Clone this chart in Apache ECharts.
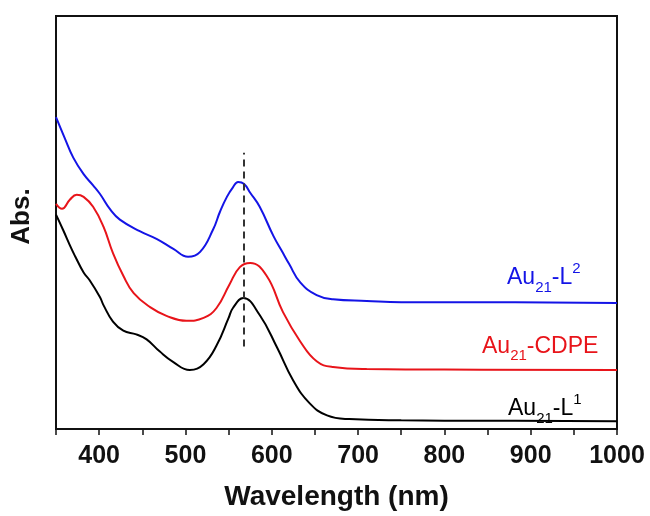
<!DOCTYPE html>
<html>
<head>
<meta charset="utf-8">
<script src="https://cdn.jsdelivr.net/npm/echarts@6/dist/echarts.min.js"></script>
<style>
  html, body { margin: 0; padding: 0; background: #fff; }
  #chart { width: 650px; height: 516px; }
</style>
</head>
<body>
<div id="chart"></div>
<script>
// UV-vis absorption spectra of the Au21 clusters (offset for clarity)
const wavelengthTicks = [400, 500, 600, 700, 800, 900, 1000];

// Au21-L2 (blue, top)
const auL2 = [
  [350, 0.755], [360, 0.705], [370, 0.657], [382, 0.617], [393, 0.590],
  [401, 0.569], [413, 0.531], [424, 0.507], [447, 0.479], [467, 0.460],
  [486, 0.436], [503, 0.417], [517, 0.429], [532, 0.483], [540, 0.526],
  [548, 0.562], [555, 0.585], [561, 0.598], [568, 0.593], [575, 0.572],
  [586, 0.538], [602, 0.467], [613, 0.426], [620, 0.400], [633, 0.355],
  [652, 0.324], [671, 0.314], [710, 0.310], [750, 0.307], [850, 0.307],
  [1000, 0.305]
];

// Au21-CDPE (red, middle)
const auCDPE = [
  [350, 0.545], [357, 0.533], [366, 0.555], [374, 0.567], [382, 0.562],
  [393, 0.538], [405, 0.490], [416, 0.426], [428, 0.371], [440, 0.329],
  [459, 0.295], [478, 0.274], [501, 0.262], [521, 0.269], [536, 0.293],
  [551, 0.350], [563, 0.392], [575, 0.402], [594, 0.371], [613, 0.283],
  [633, 0.212], [652, 0.164], [671, 0.150], [710, 0.145], [800, 0.144],
  [1000, 0.143]
];

// Au21-L1 (black, bottom)
const auL1 = [
  [350, 0.519], [358, 0.483], [368, 0.436], [372, 0.419], [382, 0.379],
  [389, 0.360], [401, 0.319], [405, 0.300], [416, 0.260], [428, 0.238],
  [443, 0.229], [455, 0.217], [470, 0.188], [486, 0.162], [505, 0.143],
  [521, 0.157], [536, 0.202], [550, 0.269], [555, 0.293], [567, 0.317],
  [586, 0.276], [606, 0.198], [625, 0.117], [644, 0.062], [664, 0.033],
  [690, 0.024], [750, 0.021], [850, 0.020], [1000, 0.019]
];

// reference line through the absorption maximum
const peakLine = { x: 567, yFrom: 0.200, yTo: 0.669 };

const FONT = '"Liberation Sans", Arial, sans-serif';

function specLabel(parts, left, top, color) {
  return {
    type: 'text',
    left: left,
    top: top,
    style: {
      text: parts,
      fill: color,
      font: '23px ' + FONT,
      rich: {
        m: { fontSize: 23, fontFamily: FONT, fill: color, lineHeight: 34 },
        sub: { fontSize: 15, fontFamily: FONT, fill: color, lineHeight: 15, verticalAlign: 'bottom' },
        sup: { fontSize: 15, fontFamily: FONT, fill: color, lineHeight: 15, verticalAlign: 'top' }
      }
    }
  };
}

const chart = echarts.init(document.getElementById('chart'), null, { renderer: 'canvas' });

const seriesLine = (name, data, color) => ({
  name: name,
  type: 'line',
  data: data,
  smooth: 0.45,
  showSymbol: false,
  symbol: 'none',
  lineStyle: { color: color, width: 2 },
  animation: false,
  z: 3
});

chart.setOption({
  animation: false,
  backgroundColor: '#fff',
  grid: {
    left: 56, right: 33, top: 16, bottom: 80,
    show: true, borderColor: '#111', borderWidth: 2, backgroundColor: 'transparent'
  },
  xAxis: {
    type: 'value',
    min: 350, max: 1000, interval: 50,
    axisLine: { show: true, onZero: false, lineStyle: { color: '#111', width: 2 } },
    axisTick: { show: true, inside: false, length: 6, lineStyle: { color: '#111', width: 1.5 } },
    splitLine: { show: false },
    axisLabel: {
      margin: 15,
      fontFamily: FONT, fontSize: 25, fontWeight: 'bold', color: '#111',
      formatter: v => (wavelengthTicks.indexOf(v) >= 0 ? String(v) : ''),
      showMinLabel: true, showMaxLabel: true
    },
    name: 'Wavelength (nm)',
    nameLocation: 'middle',
    nameGap: 54,
    nameTextStyle: { fontFamily: FONT, fontSize: 28, fontWeight: 'bold', color: '#111' }
  },
  yAxis: {
    type: 'value',
    min: 0, max: 1,
    axisLine: { show: true, lineStyle: { color: '#111', width: 2 } },
    axisTick: { show: false },
    axisLabel: { show: false },
    splitLine: { show: false },
    name: 'Abs.',
    nameLocation: 'middle',
    nameGap: 21,
    nameRotate: 90,
    nameTextStyle: { fontFamily: FONT, fontSize: 26, fontWeight: 'bold', color: '#111', padding: [0, 0, 0, 12] }
  },
  series: [
    seriesLine('Au21-L2', auL2, '#1414e6'),
    seriesLine('Au21-CDPE', auCDPE, '#e8141a'),
    Object.assign(seriesLine('Au21-L1', auL1, '#000000'), {
      markLine: {
        silent: true,
        symbol: ['none', 'none'],
        label: { show: false },
        lineStyle: { color: '#333', width: 2, type: [7, 5] },
        data: [[
          { coord: [peakLine.x, peakLine.yFrom] },
          { coord: [peakLine.x, peakLine.yTo] }
        ]]
      }
    })
  ],
  graphic: [
    specLabel('{m|Au}{sub|21}{m|-L}{sup|2}', 507, 261, '#1414e6'),
    specLabel('{m|Au}{sub|21}{m|-CDPE}', 482, 335, '#e8141a'),
    specLabel('{m|Au}{sub|21}{m|-L}{sup|1}', 508, 392, '#000000')
  ]
});
</script>
</body>
</html>
